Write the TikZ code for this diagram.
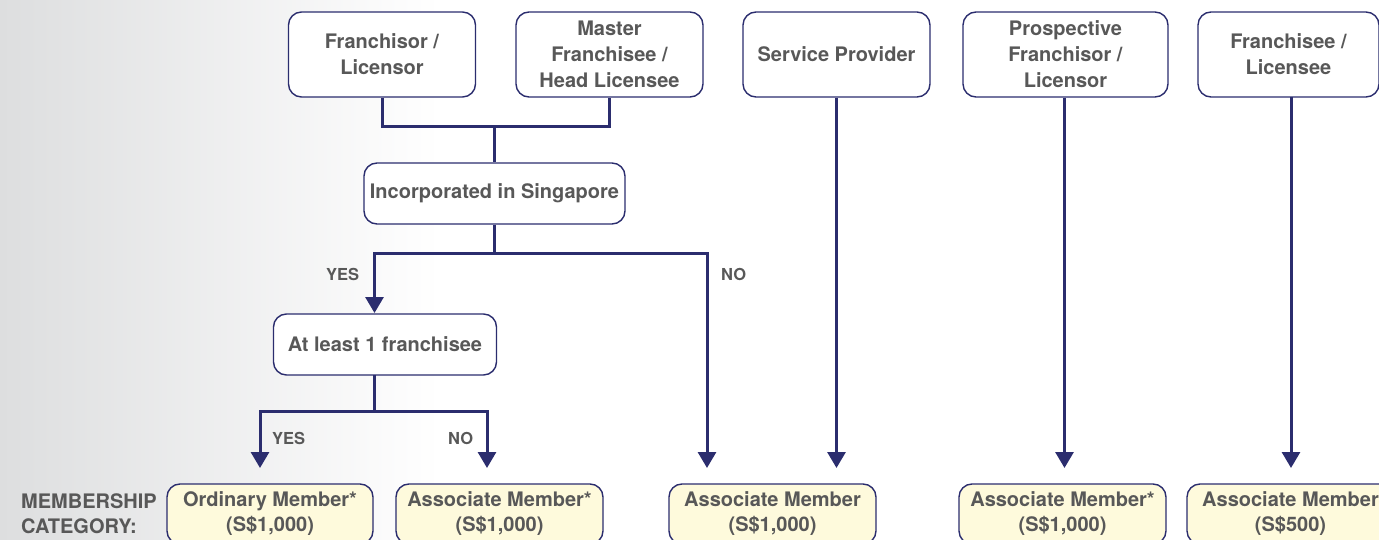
\documentclass[tikz,border=0pt]{standalone}
\usepackage{fontspec}
\setmainfont{TeX Gyre Heros}
\usetikzlibrary{arrows.meta}
\definecolor{navy}{HTML}{2B2D6E}
\definecolor{txt}{HTML}{585858}
\definecolor{cream}{HTML}{FEFADC}
\definecolor{bggray}{HTML}{DDDEDF}
\begin{document}
\begin{tikzpicture}[x=1pt,y=-1pt,
  box/.style={draw=navy, line width=1.4pt, rounded corners=13pt, fill=white, align=center,
    text=txt, font=\bfseries\fontsize{20}{26}\selectfont, inner sep=0pt,
    minimum width=187pt, minimum height=85pt},
  cat/.style={box, fill=cream, font=\bfseries\fontsize{20}{25}\selectfont,
    minimum width=207pt, minimum height=60pt},
  conn/.style={draw=navy, line width=3pt},
  arr/.style={conn, -{Triangle[width=18pt,length=16pt]}},
  lbl/.style={text=txt, font=\bfseries\fontsize{16.5}{20}\selectfont, inner sep=0pt, anchor=base west}]
\useasboundingbox (0,0) rectangle (1379,540);
\clip (0,0) rectangle (1379,540);
\fill[left color=bggray, right color=white] (0,0) rectangle (440,540);

% top boxes
\node[box] (fr) at (382,54.5) {Franchisor /\\Licensor};
\node[box] (mf) at (609.5,54.5) {Master\\Franchisee /\\Head Licensee};
\node[box] (sp) at (836.5,54.5) {Service Provider};
\node[box, minimum width=205pt] (pf) at (1065.5,54.5) {Prospective\\Franchisor /\\Licensor};
\node[box, minimum width=181pt] (fl) at (1288.5,54.5) {Franchisee /\\Licensee};

% decision boxes
\node[box, minimum width=261pt, minimum height=61pt] (inc) at (494.5,193.5) {Incorporated in Singapore};
\node[box, minimum width=223pt, minimum height=61pt] (al) at (385,344.5) {At least 1 franchisee};

% bottom category boxes
\node[cat, minimum width=206pt] (ord) at (270,514) {Ordinary Member*\\(S\$1,000)};
\node[cat] (as1) at (499.5,514) {Associate Member*\\(S\$1,000)};
\node[cat] (as2) at (772.5,514) {Associate Member\\(S\$1,000)};
\node[cat] (as3) at (1062.5,514) {Associate Member*\\(S\$1,000)};
\node[cat] (as4) at (1290.5,514) {Associate Member\\(S\$500)};

\node[text=txt, font=\bfseries\fontsize{20}{25}\selectfont, align=left, anchor=west, inner sep=0pt] (mc) at (21,514) {MEMBERSHIP\\CATEGORY:};

% coordinates
\coordinate (j1) at (inc.north |- 0,127);
\coordinate (j2) at (inc.south |- 0,254);
\coordinate (alin) at (374.5,313);
\coordinate (alout) at (374.5,375);
\coordinate (j3) at (374.5,411);
\coordinate (tOrd) at (260,468);
\coordinate (tAs1) at (487,468);
\coordinate (tAs2) at (707,468);
\coordinate (tAs2b) at (836.5,468);
\coordinate (tAs3) at (1064.5,468);
\coordinate (flout) at (1291,97);
\coordinate (tAs4) at (1291,468);

% connectors
\draw[conn] (fr.south) |- (j1) -| (mf.south);
\draw[conn] (j1) -- (inc.north);
\draw[conn] (inc.south) -- (j2);
\draw[arr] (j2) -| (alin);
\draw[arr] (j2) -| (tAs2);
\draw[conn] (alout) -- (j3);
\draw[arr] (j3) -| (tOrd);
\draw[arr] (j3) -| (tAs1);
\draw[arr] (sp.south) -- (tAs2b);
\draw[arr] (pf.south -| tAs3) -- (tAs3);
\draw[arr] (flout) -- (tAs4);

% labels
\node[lbl] (y1) at (326,280) {YES};
\node[lbl] (n1) at (721,280) {NO};
\node[lbl] (y2) at (272,444) {YES};
\node[lbl] (n2) at (448,444) {NO};
\end{tikzpicture}
\end{document}
